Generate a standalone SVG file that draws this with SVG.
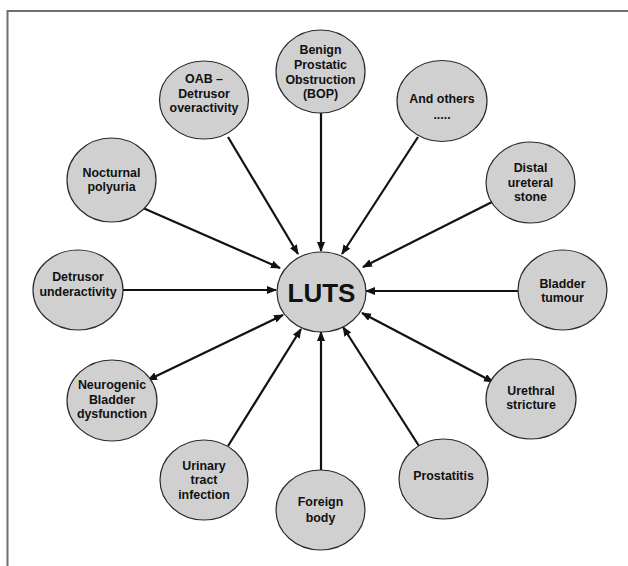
<svg xmlns="http://www.w3.org/2000/svg" width="628" height="566" viewBox="0 0 628 566">
<style>
.node ellipse{fill:#d0d0d0;stroke:#2a2a2a;stroke-width:1.2}
.node text{font-family:"Liberation Sans",Arial,sans-serif;font-weight:bold;font-size:12.4px;fill:#111;text-anchor:middle}
.conn line{stroke:#111;stroke-width:2.2;marker-end:url(#ah)}
.conn line.both{marker-start:url(#ah)}
</style>
<defs>
<marker id="ah" markerUnits="userSpaceOnUse" markerWidth="10" markerHeight="8" refX="9" refY="4" orient="auto-start-reverse" viewBox="0 0 10 8">
<path d="M0,0 L10,4 L0,8 z" fill="#111"/>
</marker>
</defs>
<rect width="628" height="566" fill="#fff"/>
<path d="M7.5,566 V11 H628" fill="none" stroke="#6e6e6e" stroke-width="2"/>
<g class="conn" id="connectors">
<line x1="321" y1="113" x2="321" y2="251"/>
<line x1="228" y1="137" x2="298" y2="254"/>
<line x1="418" y1="137" x2="342" y2="254"/>
<line x1="143" y1="208" x2="280" y2="268"/>
<line x1="492" y1="202" x2="363" y2="267"/>
<line x1="123" y1="290" x2="276" y2="290"/>
<line x1="518" y1="291" x2="366" y2="291"/>
<line class="both" x1="283" y1="315" x2="148" y2="380"/>
<line class="both" x1="362" y1="313" x2="493" y2="382"/>
<line x1="228" y1="446" x2="301" y2="329"/>
<line x1="321" y1="470" x2="321" y2="332"/>
<line x1="419" y1="446" x2="343" y2="327"/>
</g>
<g class="node" id="luts"><ellipse cx="321.5" cy="292" rx="44.5" ry="40"/><text x="321.5" y="301.5" style="font-size:26px">LUTS</text></g>
<g class="node" id="bop"><ellipse cx="320.5" cy="71.5" rx="44.5" ry="41.5"/><text x="320.5" y="54">Benign</text><text x="320.5" y="69">Prostatic</text><text x="320.5" y="84">Obstruction</text><text x="320.5" y="98">(BOP)</text></g>
<g class="node" id="oab"><ellipse cx="204" cy="100" rx="44.5" ry="39"/><text x="204" y="83">OAB –</text><text x="204" y="98">Detrusor</text><text x="204" y="112">overactivity</text></g>
<g class="node" id="others"><ellipse cx="442" cy="101" rx="45" ry="40.5"/><text x="442" y="103">And others</text><text x="442" y="119">.....</text></g>
<g class="node" id="nocturnal"><ellipse cx="111.5" cy="180" rx="44.5" ry="42"/><text x="111.5" y="177">Nocturnal</text><text x="111.5" y="191">polyuria</text></g>
<g class="node" id="distal"><ellipse cx="530.5" cy="182.5" rx="44.5" ry="40.5"/><text x="530.5" y="172">Distal</text><text x="530.5" y="187">ureteral</text><text x="530.5" y="201">stone</text></g>
<g class="node" id="underactivity"><ellipse cx="78" cy="290" rx="45" ry="40"/><text x="78" y="281">Detrusor</text><text x="78" y="296">underactivity</text></g>
<g class="node" id="bladder"><ellipse cx="562.5" cy="290" rx="44.5" ry="40"/><text x="562.5" y="288">Bladder</text><text x="562.5" y="302">tumour</text></g>
<g class="node" id="neurogenic"><ellipse cx="112" cy="400.5" rx="45" ry="40.5"/><text x="112" y="389">Neurogenic</text><text x="112" y="404">Bladder</text><text x="112" y="418">dysfunction</text></g>
<g class="node" id="urethral"><ellipse cx="531" cy="399" rx="45" ry="40"/><text x="531" y="395">Urethral</text><text x="531" y="409">stricture</text></g>
<g class="node" id="uti"><ellipse cx="204" cy="480" rx="44" ry="40"/><text x="204" y="470">Urinary</text><text x="204" y="484">tract</text><text x="204" y="499">infection</text></g>
<g class="node" id="foreign"><ellipse cx="320.5" cy="510" rx="44.5" ry="40"/><text x="320.5" y="506">Foreign</text><text x="320.5" y="522">body</text></g>
<g class="node" id="prostatitis"><ellipse cx="443.5" cy="479" rx="44.5" ry="40"/><text x="443.5" y="480">Prostatitis</text></g>
</svg>
